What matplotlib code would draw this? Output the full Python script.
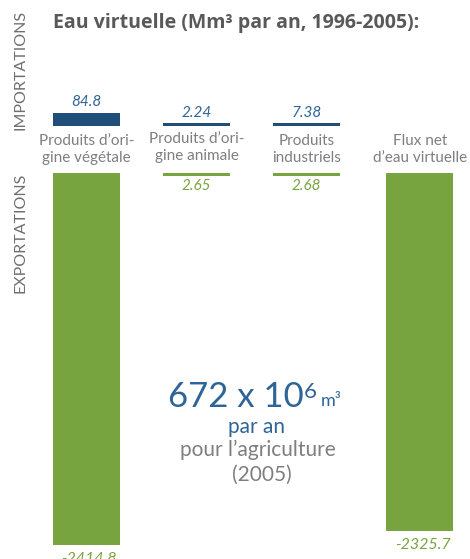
import matplotlib.pyplot as plt
from matplotlib.transforms import blended_transform_factory

plt.rcParams['font.family'] = ['Lato', 'DejaVu Sans']

# data (Mm³ par an, 1996-2005)
categories = ["Produits d’ori-\ngine végétale", "Produits d’ori-\ngine animale",
              "Produits\nindustriels", "Flux net\nd’eau virtuelle"]
imports = [84.8, 2.24, 7.38]
exports = [-2414.8, -2.65, -2.68]
net_flux = -2325.7
import_labels = ["84.8", "2.24", "7.38"]
export_labels = ["-2414.8", "2.65", "2.68"]
net_label = "-2325.7"

BLUE = "#1f4e79"
BLUE_TXT = "#2e6496"
GREEN = "#77a43f"
GRAY = "#7f7f7f"
DARK = "#595959"

W, H = 470, 559
UNIT = 6.49          # Mm³ per pixel
MIN_BAR = 3 * UNIT   # keep tiny bars visible

xpos = [0, 1, 2, 3.03]
xlim = (-86.5 / 110, (W - 86.5) / 110)


def fy(y_px):
    return 1 - y_px / H


fig = plt.figure(figsize=(W / 100, H / 100), dpi=100)

# importations (up)
top_base, top_h = 126, 100
ax_imp = fig.add_axes([0, fy(top_base), 1, top_h / H])
ax_imp.set_xlim(xlim)
ax_imp.set_ylim(0, top_h * UNIT)
ax_imp.axis('off')

# exportations (down)
exp_top = 173
ax_exp = fig.add_axes([0, 0, 1, fy(exp_top)])
ax_exp.set_xlim(xlim)
ax_exp.set_ylim(-(H - exp_top) * UNIT, 0)
ax_exp.axis('off')

imp_h = [max(v, MIN_BAR) for v in imports]
ax_imp.bar(xpos[:3], imp_h, width=0.61, color=BLUE)
for x, h, lab in zip(xpos, imp_h, import_labels):
    ax_imp.annotate(lab, (x, h), xytext=(0, 2.5), textcoords='offset points',
                    ha='center', va='bottom', color=BLUE_TXT, style='italic',
                    fontsize=11)

exp_vals = exports + [net_flux]
exp_labs = export_labels + [net_label]
exp_h = [min(v, -MIN_BAR) for v in exp_vals]
ax_exp.bar(xpos, exp_h, width=0.61, color=GREEN)
for x, h, lab in zip(xpos, exp_h, exp_labs):
    big = abs(h) > 100
    ax_exp.annotate(lab, (x, h), xytext=(2 if big else 0, -5 if big else -2),
                    textcoords='offset points', ha='center', va='top',
                    color=GREEN, style='italic', fontsize=11.5 if big else 11,
                    annotation_clip=False)

# category labels between the two panels
trans = blended_transform_factory(ax_exp.transData, fig.transFigure)
label_y = [149.5, 147.5, 149.5, 149.5]
for x, y, cat in zip(xpos, label_y, categories):
    ax_exp.text(x, fy(y), cat, transform=trans, ha='center', va='center',
                fontsize=11, color=GRAY, linespacing=1.2)

# side labels
fig.text(21 / W, fy(70), "IMPORTATIONS", rotation=90, ha='center', va='center',
         fontsize=11.5, color='#6f6f6f')
fig.text(21 / W, fy(233), "EXPORTATIONS", rotation=90, ha='center', va='center',
         fontsize=11.5, color='#6f6f6f')

# title
fig.text(53 / W, fy(23), "Eau virtuelle (Mm³ par an, 1996-2005):", ha='left',
         va='center', fontsize=14, weight='bold', color=DARK,
         family=['Open Sans', 'DejaVu Sans'])

# central note
t1 = fig.text(168 / W, fy(397), "672 x 10", ha='left', va='center',
              fontsize=25, color=BLUE_TXT)
sup = ax_exp.annotate("6", xy=(1, 1), xycoords=t1, xytext=(0, -1),
                      textcoords='offset points', ha='left', va='top',
                      fontsize=16, color=BLUE_TXT)
ax_exp.annotate("m³", xy=(1, 0), xycoords=(sup, t1), xytext=(3, 5),
                textcoords='offset points', ha='left', va='baseline',
                fontsize=13, color=BLUE_TXT)
fig.text(256 / W, fy(427), "par an", ha='center', va='center', fontsize=15,
         color=BLUE_TXT)
fig.text(258 / W, fy(450), "pour l’agriculture", ha='center', va='center',
         fontsize=15, color=GRAY)
fig.text(262 / W, fy(475), "(2005)", ha='center', va='center', fontsize=15,
         color=GRAY)

fig.savefig("out.png", dpi=100)
